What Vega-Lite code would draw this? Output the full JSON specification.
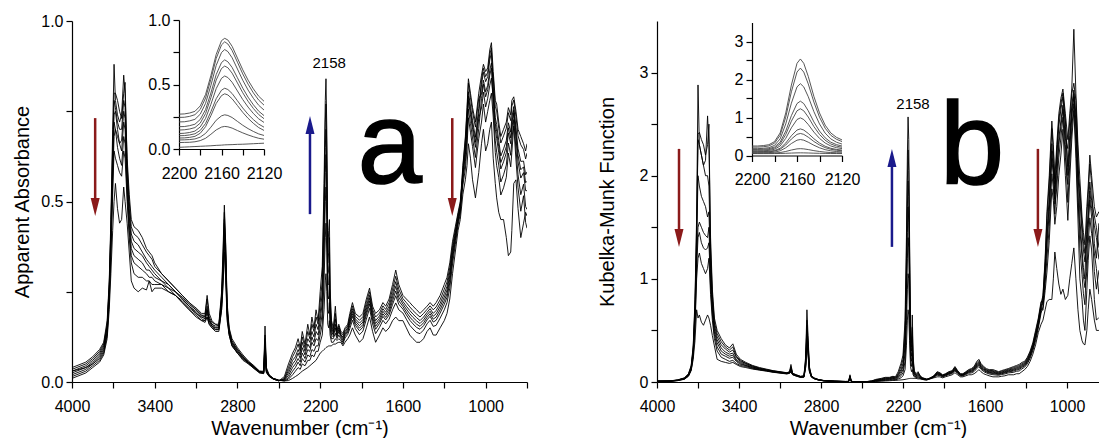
{
"$schema":"https://vega.github.io/schema/vega-lite/v6.json",
"background":"white",
"padding":{"left":12,"top":12,"right":0,"bottom":0},
"spacing":69,
"config":{
 "view":{"stroke":null},
 "font":"Liberation Sans",
 "axis":{"domainColor":"#000","tickColor":"#000","labelColor":"#000","titleColor":"#000","grid":false,"labelFont":"Liberation Sans","titleFont":"Liberation Sans","labelFontSize":16,"titleFontSize":20,"titleFontWeight":"normal","tickSize":6,"domainWidth":1.2,"tickWidth":1.2,"labelOverlap":false,"labelFlush":false,"labelBound":false}
},
"datasets":{
"amain":[
{"w":4000,"c1":0.040,"c2":0.035,"c3":0.030,"c4":0.030,"c5":0.025,"c6":0.020,"c7":0.015,"c8":0.010},
{"w":3900,"c1":0.055,"c2":0.050,"c3":0.045,"c4":0.040,"c5":0.040,"c6":0.035,"c7":0.030,"c8":0.025},
{"w":3850,"c1":0.070,"c2":0.065,"c3":0.060,"c4":0.055,"c5":0.050,"c6":0.050,"c7":0.045,"c8":0.040},
{"w":3800,"c1":0.090,"c2":0.085,"c3":0.080,"c4":0.075,"c5":0.070,"c6":0.065,"c7":0.060,"c8":0.055},
{"w":3770,"c1":0.110,"c2":0.105,"c3":0.100,"c4":0.095,"c5":0.090,"c6":0.085,"c7":0.080,"c8":0.075},
{"w":3745,"c1":0.170,"c2":0.160,"c3":0.155,"c4":0.150,"c5":0.140,"c6":0.135,"c7":0.130,"c8":0.120},
{"w":3730,"c1":0.280,"c2":0.270,"c3":0.260,"c4":0.250,"c5":0.240,"c6":0.230,"c7":0.220,"c8":0.200},
{"w":3718,"c1":0.450,"c2":0.430,"c3":0.420,"c4":0.400,"c5":0.380,"c6":0.370,"c7":0.350,"c8":0.300},
{"w":3705,"c1":0.700,"c2":0.660,"c3":0.640,"c4":0.600,"c5":0.580,"c6":0.550,"c7":0.520,"c8":0.420},
{"w":3695,"c1":0.880,"c2":0.800,"c3":0.780,"c4":0.740,"c5":0.720,"c6":0.680,"c7":0.640,"c8":0.500},
{"w":3685,"c1":0.780,"c2":0.800,"c3":0.760,"c4":0.750,"c5":0.700,"c6":0.700,"c7":0.620,"c8":0.550},
{"w":3670,"c1":0.740,"c2":0.780,"c3":0.720,"c4":0.700,"c5":0.680,"c6":0.650,"c7":0.600,"c8":0.480},
{"w":3655,"c1":0.720,"c2":0.750,"c3":0.700,"c4":0.660,"c5":0.660,"c6":0.620,"c7":0.580,"c8":0.440},
{"w":3640,"c1":0.740,"c2":0.730,"c3":0.700,"c4":0.670,"c5":0.640,"c6":0.600,"c7":0.570,"c8":0.450},
{"w":3625,"c1":0.850,"c2":0.800,"c3":0.780,"c4":0.750,"c5":0.720,"c6":0.680,"c7":0.640,"c8":0.540},
{"w":3615,"c1":0.800,"c2":0.830,"c3":0.760,"c4":0.730,"c5":0.700,"c6":0.660,"c7":0.620,"c8":0.500},
{"w":3600,"c1":0.620,"c2":0.600,"c3":0.580,"c4":0.560,"c5":0.540,"c6":0.520,"c7":0.500,"c8":0.440},
{"w":3585,"c1":0.520,"c2":0.500,"c3":0.480,"c4":0.460,"c5":0.440,"c6":0.420,"c7":0.400,"c8":0.360},
{"w":3570,"c1":0.450,"c2":0.430,"c3":0.410,"c4":0.390,"c5":0.370,"c6":0.350,"c7":0.330,"c8":0.280},
{"w":3550,"c1":0.430,"c2":0.410,"c3":0.390,"c4":0.370,"c5":0.350,"c6":0.330,"c7":0.300,"c8":0.260},
{"w":3520,"c1":0.420,"c2":0.400,"c3":0.380,"c4":0.360,"c5":0.340,"c6":0.320,"c7":0.290,"c8":0.250},
{"w":3490,"c1":0.400,"c2":0.380,"c3":0.360,"c4":0.350,"c5":0.330,"c6":0.310,"c7":0.290,"c8":0.260},
{"w":3460,"c1":0.370,"c2":0.360,"c3":0.340,"c4":0.330,"c5":0.310,"c6":0.300,"c7":0.280,"c8":0.255},
{"w":3440,"c1":0.360,"c2":0.350,"c3":0.330,"c4":0.320,"c5":0.310,"c6":0.290,"c7":0.280,"c8":0.280},
{"w":3420,"c1":0.350,"c2":0.340,"c3":0.320,"c4":0.310,"c5":0.300,"c6":0.290,"c7":0.270,"c8":0.250},
{"w":3400,"c1":0.330,"c2":0.320,"c3":0.310,"c4":0.300,"c5":0.290,"c6":0.280,"c7":0.270,"c8":0.260},
{"w":3350,"c1":0.300,"c2":0.300,"c3":0.290,"c4":0.280,"c5":0.280,"c6":0.270,"c7":0.270,"c8":0.260},
{"w":3300,"c1":0.280,"c2":0.280,"c3":0.270,"c4":0.270,"c5":0.260,"c6":0.260,"c7":0.250,"c8":0.250},
{"w":3250,"c1":0.260,"c2":0.260,"c3":0.250,"c4":0.250,"c5":0.250,"c6":0.240,"c7":0.240,"c8":0.240},
{"w":3200,"c1":0.240,"c2":0.240,"c3":0.235,"c4":0.230,"c5":0.230,"c6":0.225,"c7":0.220,"c8":0.220},
{"w":3150,"c1":0.220,"c2":0.220,"c3":0.215,"c4":0.210,"c5":0.210,"c6":0.205,"c7":0.200,"c8":0.200},
{"w":3100,"c1":0.205,"c2":0.200,"c3":0.200,"c4":0.195,"c5":0.190,"c6":0.190,"c7":0.185,"c8":0.180},
{"w":3060,"c1":0.190,"c2":0.185,"c3":0.185,"c4":0.180,"c5":0.180,"c6":0.175,"c7":0.170,"c8":0.170},
{"w":3035,"c1":0.190,"c2":0.185,"c3":0.180,"c4":0.180,"c5":0.175,"c6":0.170,"c7":0.170,"c8":0.165},
{"w":3020,"c1":0.240,"c2":0.230,"c3":0.200,"c4":0.210,"c5":0.190,"c6":0.200,"c7":0.180,"c8":0.180},
{"w":3005,"c1":0.190,"c2":0.180,"c3":0.175,"c4":0.170,"c5":0.170,"c6":0.165,"c7":0.160,"c8":0.160},
{"w":2985,"c1":0.170,"c2":0.165,"c3":0.160,"c4":0.160,"c5":0.155,"c6":0.155,"c7":0.150,"c8":0.150},
{"w":2960,"c1":0.160,"c2":0.160,"c3":0.155,"c4":0.150,"c5":0.150,"c6":0.145,"c7":0.145,"c8":0.140},
{"w":2935,"c1":0.160,"c2":0.155,"c3":0.155,"c4":0.150,"c5":0.150,"c6":0.145,"c7":0.145,"c8":0.140},
{"w":2915,"c1":0.250,"c2":0.240,"c3":0.230,"c4":0.220,"c5":0.220,"c6":0.210,"c7":0.200,"c8":0.200},
{"w":2905,"c1":0.360,"c2":0.340,"c3":0.320,"c4":0.310,"c5":0.300,"c6":0.290,"c7":0.280,"c8":0.260},
{"w":2895,"c1":0.490,"c2":0.470,"c3":0.450,"c4":0.440,"c5":0.420,"c6":0.410,"c7":0.390,"c8":0.360},
{"w":2885,"c1":0.380,"c2":0.370,"c3":0.350,"c4":0.340,"c5":0.330,"c6":0.320,"c7":0.300,"c8":0.280},
{"w":2875,"c1":0.220,"c2":0.210,"c3":0.200,"c4":0.200,"c5":0.190,"c6":0.190,"c7":0.180,"c8":0.170},
{"w":2860,"c1":0.150,"c2":0.145,"c3":0.140,"c4":0.140,"c5":0.135,"c6":0.135,"c7":0.130,"c8":0.130},
{"w":2840,"c1":0.120,"c2":0.115,"c3":0.110,"c4":0.110,"c5":0.105,"c6":0.105,"c7":0.100,"c8":0.100},
{"w":2800,"c1":0.095,"c2":0.090,"c3":0.090,"c4":0.085,"c5":0.085,"c6":0.080,"c7":0.080,"c8":0.080},
{"w":2760,"c1":0.075,"c2":0.070,"c3":0.070,"c4":0.070,"c5":0.065,"c6":0.065,"c7":0.065,"c8":0.060},
{"w":2720,"c1":0.058,"c2":0.056,"c3":0.055,"c4":0.054,"c5":0.053,"c6":0.052,"c7":0.050,"c8":0.050},
{"w":2680,"c1":0.045,"c2":0.043,"c3":0.042,"c4":0.041,"c5":0.040,"c6":0.040,"c7":0.038,"c8":0.037},
{"w":2640,"c1":0.030,"c2":0.030,"c3":0.029,"c4":0.028,"c5":0.028,"c6":0.027,"c7":0.026,"c8":0.025},
{"w":2610,"c1":0.030,"c2":0.028,"c3":0.027,"c4":0.026,"c5":0.025,"c6":0.025,"c7":0.024,"c8":0.023},
{"w":2600,"c1":0.155,"c2":0.130,"c3":0.120,"c4":0.110,"c5":0.100,"c6":0.090,"c7":0.080,"c8":0.070},
{"w":2590,"c1":0.040,"c2":0.035,"c3":0.032,"c4":0.030,"c5":0.030,"c6":0.028,"c7":0.027,"c8":0.026},
{"w":2570,"c1":0.020,"c2":0.019,"c3":0.018,"c4":0.018,"c5":0.017,"c6":0.016,"c7":0.016,"c8":0.015},
{"w":2540,"c1":0.010,"c2":0.010,"c3":0.010,"c4":0.009,"c5":0.009,"c6":0.008,"c7":0.008,"c8":0.008},
{"w":2500,"c1":0.005,"c2":0.005,"c3":0.004,"c4":0.004,"c5":0.004,"c6":0.004,"c7":0.003,"c8":0.003},
{"w":2460,"c1":0.003,"c2":0.003,"c3":0.004,"c4":0.005,"c5":0.006,"c6":0.008,"c7":0.010,"c8":0.015},
{"w":2430,"c1":0.004,"c2":0.008,"c3":0.012,"c4":0.018,"c5":0.025,"c6":0.032,"c7":0.040,"c8":0.050},
{"w":2400,"c1":0.010,"c2":0.020,"c3":0.030,"c4":0.040,"c5":0.050,"c6":0.060,"c7":0.070,"c8":0.080},
{"w":2380,"c1":0.015,"c2":0.030,"c3":0.040,"c4":0.050,"c5":0.060,"c6":0.070,"c7":0.085,"c8":0.095},
{"w":2360,"c1":0.020,"c2":0.040,"c3":0.055,"c4":0.065,"c5":0.080,"c6":0.090,"c7":0.105,"c8":0.120},
{"w":2345,"c1":0.025,"c2":0.035,"c3":0.045,"c4":0.055,"c5":0.065,"c6":0.075,"c7":0.085,"c8":0.095},
{"w":2330,"c1":0.030,"c2":0.050,"c3":0.065,"c4":0.080,"c5":0.095,"c6":0.110,"c7":0.125,"c8":0.140},
{"w":2310,"c1":0.035,"c2":0.045,"c3":0.055,"c4":0.065,"c5":0.075,"c6":0.085,"c7":0.095,"c8":0.105},
{"w":2290,"c1":0.040,"c2":0.060,"c3":0.075,"c4":0.090,"c5":0.105,"c6":0.120,"c7":0.140,"c8":0.160},
{"w":2275,"c1":0.045,"c2":0.060,"c3":0.070,"c4":0.085,"c5":0.095,"c6":0.110,"c7":0.120,"c8":0.130},
{"w":2260,"c1":0.050,"c2":0.075,"c3":0.090,"c4":0.110,"c5":0.125,"c6":0.140,"c7":0.160,"c8":0.180},
{"w":2245,"c1":0.055,"c2":0.070,"c3":0.085,"c4":0.100,"c5":0.110,"c6":0.125,"c7":0.140,"c8":0.150},
{"w":2230,"c1":0.060,"c2":0.085,"c3":0.100,"c4":0.120,"c5":0.140,"c6":0.160,"c7":0.180,"c8":0.200},
{"w":2215,"c1":0.070,"c2":0.085,"c3":0.100,"c4":0.115,"c5":0.130,"c6":0.145,"c7":0.160,"c8":0.170},
{"w":2200,"c1":0.080,"c2":0.110,"c3":0.130,"c4":0.150,"c5":0.170,"c6":0.190,"c7":0.220,"c8":0.250},
{"w":2185,"c1":0.085,"c2":0.130,"c3":0.160,"c4":0.190,"c5":0.220,"c6":0.250,"c7":0.280,"c8":0.320},
{"w":2172,"c1":0.090,"c2":0.200,"c3":0.280,"c4":0.340,"c5":0.400,"c6":0.450,"c7":0.500,"c8":0.550},
{"w":2163,"c1":0.093,"c2":0.280,"c3":0.400,"c4":0.500,"c5":0.580,"c6":0.650,"c7":0.720,"c8":0.780},
{"w":2158,"c1":0.095,"c2":0.300,"c3":0.440,"c4":0.540,"c5":0.630,"c6":0.700,"c7":0.770,"c8":0.840},
{"w":2152,"c1":0.097,"c2":0.250,"c3":0.360,"c4":0.450,"c5":0.520,"c6":0.580,"c7":0.640,"c8":0.700},
{"w":2145,"c1":0.098,"c2":0.160,"c3":0.200,"c4":0.240,"c5":0.270,"c6":0.300,"c7":0.330,"c8":0.360},
{"w":2138,"c1":0.100,"c2":0.150,"c3":0.190,"c4":0.230,"c5":0.270,"c6":0.310,"c7":0.360,"c8":0.420},
{"w":2133,"c1":0.100,"c2":0.170,"c3":0.220,"c4":0.270,"c5":0.320,"c6":0.360,"c7":0.400,"c8":0.450},
{"w":2128,"c1":0.100,"c2":0.130,"c3":0.150,"c4":0.170,"c5":0.190,"c6":0.210,"c7":0.230,"c8":0.260},
{"w":2118,"c1":0.100,"c2":0.110,"c3":0.120,"c4":0.130,"c5":0.140,"c6":0.150,"c7":0.160,"c8":0.170},
{"w":2105,"c1":0.105,"c2":0.110,"c3":0.120,"c4":0.125,"c5":0.130,"c6":0.135,"c7":0.140,"c8":0.150},
{"w":2090,"c1":0.105,"c2":0.120,"c3":0.135,"c4":0.150,"c5":0.160,"c6":0.175,"c7":0.190,"c8":0.210},
{"w":2078,"c1":0.108,"c2":0.115,"c3":0.120,"c4":0.125,"c5":0.130,"c6":0.135,"c7":0.140,"c8":0.145},
{"w":2065,"c1":0.110,"c2":0.120,"c3":0.130,"c4":0.140,"c5":0.145,"c6":0.150,"c7":0.155,"c8":0.160},
{"w":2050,"c1":0.110,"c2":0.115,"c3":0.120,"c4":0.125,"c5":0.130,"c6":0.130,"c7":0.135,"c8":0.140},
{"w":2035,"c1":0.100,"c2":0.105,"c3":0.110,"c4":0.115,"c5":0.120,"c6":0.125,"c7":0.130,"c8":0.135},
{"w":2020,"c1":0.110,"c2":0.122,"c3":0.128,"c4":0.132,"c5":0.136,"c6":0.140,"c7":0.145,"c8":0.150},
{"w":2000,"c1":0.120,"c2":0.132,"c3":0.138,"c4":0.142,"c5":0.146,"c6":0.150,"c7":0.155,"c8":0.160},
{"w":1985,"c1":0.130,"c2":0.148,"c3":0.157,"c4":0.163,"c5":0.169,"c6":0.175,"c7":0.182,"c8":0.190},
{"w":1966,"c1":0.150,"c2":0.171,"c3":0.182,"c4":0.189,"c5":0.196,"c6":0.203,"c7":0.211,"c8":0.220},
{"w":1945,"c1":0.130,"c2":0.148,"c3":0.157,"c4":0.163,"c5":0.169,"c6":0.175,"c7":0.182,"c8":0.190},
{"w":1915,"c1":0.110,"c2":0.131,"c3":0.142,"c4":0.149,"c5":0.156,"c6":0.163,"c7":0.171,"c8":0.180},
{"w":1890,"c1":0.120,"c2":0.141,"c3":0.152,"c4":0.159,"c5":0.166,"c6":0.173,"c7":0.181,"c8":0.190},
{"w":1865,"c1":0.150,"c2":0.174,"c3":0.186,"c4":0.194,"c5":0.202,"c6":0.210,"c7":0.220,"c8":0.230},
{"w":1842,"c1":0.180,"c2":0.204,"c3":0.216,"c4":0.224,"c5":0.232,"c6":0.240,"c7":0.250,"c8":0.260},
{"w":1820,"c1":0.140,"c2":0.161,"c3":0.172,"c4":0.179,"c5":0.186,"c6":0.193,"c7":0.201,"c8":0.210},
{"w":1798,"c1":0.110,"c2":0.134,"c3":0.146,"c4":0.154,"c5":0.162,"c6":0.170,"c7":0.180,"c8":0.190},
{"w":1770,"c1":0.130,"c2":0.151,"c3":0.162,"c4":0.169,"c5":0.176,"c6":0.183,"c7":0.191,"c8":0.200},
{"w":1745,"c1":0.150,"c2":0.171,"c3":0.182,"c4":0.189,"c5":0.196,"c6":0.203,"c7":0.211,"c8":0.220},
{"w":1725,"c1":0.140,"c2":0.161,"c3":0.172,"c4":0.179,"c5":0.186,"c6":0.193,"c7":0.201,"c8":0.210},
{"w":1700,"c1":0.150,"c2":0.174,"c3":0.186,"c4":0.194,"c5":0.202,"c6":0.210,"c7":0.220,"c8":0.230},
{"w":1675,"c1":0.170,"c2":0.200,"c3":0.215,"c4":0.225,"c5":0.235,"c6":0.245,"c7":0.257,"c8":0.270},
{"w":1652,"c1":0.180,"c2":0.219,"c3":0.239,"c4":0.252,"c5":0.265,"c6":0.278,"c7":0.293,"c8":0.310},
{"w":1630,"c1":0.170,"c2":0.200,"c3":0.215,"c4":0.225,"c5":0.235,"c6":0.245,"c7":0.257,"c8":0.270},
{"w":1600,"c1":0.170,"c2":0.191,"c3":0.202,"c4":0.209,"c5":0.216,"c6":0.223,"c7":0.231,"c8":0.240},
{"w":1575,"c1":0.150,"c2":0.174,"c3":0.186,"c4":0.194,"c5":0.202,"c6":0.210,"c7":0.220,"c8":0.230},
{"w":1550,"c1":0.130,"c2":0.157,"c3":0.171,"c4":0.180,"c5":0.189,"c6":0.198,"c7":0.208,"c8":0.220},
{"w":1527,"c1":0.120,"c2":0.147,"c3":0.161,"c4":0.170,"c5":0.179,"c6":0.188,"c7":0.198,"c8":0.210},
{"w":1500,"c1":0.110,"c2":0.137,"c3":0.151,"c4":0.160,"c5":0.169,"c6":0.178,"c7":0.188,"c8":0.200},
{"w":1476,"c1":0.110,"c2":0.134,"c3":0.146,"c4":0.154,"c5":0.162,"c6":0.170,"c7":0.180,"c8":0.190},
{"w":1450,"c1":0.120,"c2":0.144,"c3":0.156,"c4":0.164,"c5":0.172,"c6":0.180,"c7":0.190,"c8":0.200},
{"w":1425,"c1":0.140,"c2":0.161,"c3":0.172,"c4":0.179,"c5":0.186,"c6":0.193,"c7":0.201,"c8":0.210},
{"w":1403,"c1":0.150,"c2":0.171,"c3":0.182,"c4":0.189,"c5":0.196,"c6":0.203,"c7":0.211,"c8":0.220},
{"w":1380,"c1":0.130,"c2":0.154,"c3":0.166,"c4":0.174,"c5":0.182,"c6":0.190,"c7":0.200,"c8":0.210},
{"w":1359,"c1":0.130,"c2":0.157,"c3":0.171,"c4":0.180,"c5":0.189,"c6":0.198,"c7":0.208,"c8":0.220},
{"w":1330,"c1":0.150,"c2":0.177,"c3":0.191,"c4":0.200,"c5":0.209,"c6":0.218,"c7":0.228,"c8":0.240},
{"w":1300,"c1":0.170,"c2":0.200,"c3":0.215,"c4":0.225,"c5":0.235,"c6":0.245,"c7":0.257,"c8":0.270},
{"w":1280,"c1":0.190,"c2":0.220,"c3":0.235,"c4":0.245,"c5":0.255,"c6":0.265,"c7":0.277,"c8":0.290},
{"w":1260,"c1":0.230,"c2":0.260,"c3":0.275,"c4":0.285,"c5":0.295,"c6":0.305,"c7":0.317,"c8":0.330},
{"w":1240,"c1":0.300,"c2":0.327,"c3":0.341,"c4":0.350,"c5":0.359,"c6":0.368,"c7":0.378,"c8":0.390},
{"w":1220,"c1":0.360,"c2":0.381,"c3":0.392,"c4":0.399,"c5":0.406,"c6":0.413,"c7":0.421,"c8":0.430},
{"w":1200,"c1":0.420,"c2":0.435,"c3":0.443,"c4":0.448,"c5":0.453,"c6":0.458,"c7":0.464,"c8":0.470},
{"w":1184,"c1":0.450,"c2":0.465,"c3":0.473,"c4":0.478,"c5":0.483,"c6":0.488,"c7":0.494,"c8":0.500},
{"w":1165,"c1":0.520,"c2":0.558,"c3":0.582,"c4":0.546,"c5":0.594,"c6":0.570,"c7":0.600,"c8":0.576},
{"w":1147,"c1":0.560,"c2":0.610,"c3":0.650,"c4":0.590,"c5":0.670,"c6":0.630,"c7":0.680,"c8":0.640},
{"w":1135,"c1":0.600,"c2":0.676,"c3":0.724,"c4":0.652,"c5":0.748,"c6":0.700,"c7":0.760,"c8":0.712},
{"w":1125,"c1":0.660,"c2":0.756,"c3":0.804,"c4":0.732,"c5":0.828,"c6":0.780,"c7":0.840,"c8":0.792},
{"w":1110,"c1":0.620,"c2":0.716,"c3":0.764,"c4":0.692,"c5":0.788,"c6":0.740,"c7":0.800,"c8":0.752},
{"w":1095,"c1":0.560,"c2":0.676,"c3":0.724,"c4":0.652,"c5":0.748,"c6":0.700,"c7":0.760,"c8":0.712},
{"w":1074,"c1":0.510,"c2":0.622,"c3":0.678,"c4":0.594,"c5":0.706,"c6":0.650,"c7":0.720,"c8":0.664},
{"w":1050,"c1":0.580,"c2":0.702,"c3":0.758,"c4":0.674,"c5":0.786,"c6":0.730,"c7":0.800,"c8":0.744},
{"w":1030,"c1":0.660,"c2":0.785,"c3":0.837,"c4":0.720,"c5":0.798,"c6":0.759,"c7":0.850,"c8":0.824},
{"w":1016,"c1":0.700,"c2":0.825,"c3":0.869,"c4":0.770,"c5":0.836,"c6":0.803,"c7":0.880,"c8":0.858},
{"w":1000,"c1":0.640,"c2":0.790,"c3":0.846,"c4":0.720,"c5":0.804,"c6":0.762,"c7":0.860,"c8":0.832},
{"w":985,"c1":0.660,"c2":0.810,"c3":0.858,"c4":0.750,"c5":0.822,"c6":0.786,"c7":0.870,"c8":0.846},
{"w":970,"c1":0.700,"c2":0.850,"c3":0.906,"c4":0.780,"c5":0.864,"c6":0.822,"c7":0.920,"c8":0.892},
{"w":958,"c1":0.720,"c2":0.870,"c3":0.926,"c4":0.800,"c5":0.884,"c6":0.842,"c7":0.940,"c8":0.912},
{"w":945,"c1":0.620,"c2":0.762,"c3":0.818,"c4":0.734,"c5":0.846,"c6":0.790,"c7":0.860,"c8":0.804},
{"w":930,"c1":0.550,"c2":0.668,"c3":0.732,"c4":0.636,"c5":0.764,"c6":0.700,"c7":0.780,"c8":0.716},
{"w":920,"c1":0.510,"c2":0.637,"c3":0.713,"c4":0.599,"c5":0.751,"c6":0.675,"c7":0.770,"c8":0.694},
{"w":905,"c1":0.470,"c2":0.601,"c3":0.669,"c4":0.567,"c5":0.703,"c6":0.635,"c7":0.720,"c8":0.652},
{"w":890,"c1":0.450,"c2":0.554,"c3":0.626,"c4":0.518,"c5":0.662,"c6":0.590,"c7":0.680,"c8":0.608},
{"w":870,"c1":0.450,"c2":0.574,"c3":0.646,"c4":0.538,"c5":0.682,"c6":0.610,"c7":0.700,"c8":0.628},
{"w":850,"c1":0.400,"c2":0.601,"c3":0.669,"c4":0.567,"c5":0.703,"c6":0.635,"c7":0.720,"c8":0.652},
{"w":835,"c1":0.350,"c2":0.662,"c3":0.718,"c4":0.634,"c5":0.746,"c6":0.690,"c7":0.760,"c8":0.704},
{"w":818,"c1":0.360,"c2":0.628,"c3":0.692,"c4":0.596,"c5":0.724,"c6":0.660,"c7":0.740,"c8":0.676},
{"w":810,"c1":0.420,"c2":0.668,"c3":0.732,"c4":0.636,"c5":0.764,"c6":0.700,"c7":0.780,"c8":0.716},
{"w":796,"c1":0.550,"c2":0.727,"c3":0.763,"c4":0.709,"c5":0.781,"c6":0.745,"c7":0.790,"c8":0.754},
{"w":780,"c1":0.560,"c2":0.645,"c3":0.705,"c4":0.615,"c5":0.735,"c6":0.675,"c7":0.750,"c8":0.690},
{"w":765,"c1":0.480,"c2":0.574,"c3":0.646,"c4":0.538,"c5":0.682,"c6":0.610,"c7":0.700,"c8":0.628},
{"w":745,"c1":0.400,"c2":0.519,"c3":0.611,"c4":0.473,"c5":0.657,"c6":0.565,"c7":0.680,"c8":0.588},
{"w":725,"c1":0.440,"c2":0.548,"c3":0.612,"c4":0.516,"c5":0.644,"c6":0.580,"c7":0.660,"c8":0.596},
{"w":710,"c1":0.470,"c2":0.486,"c3":0.574,"c4":0.442,"c5":0.618,"c6":0.530,"c7":0.640,"c8":0.552},
{"w":700,"c1":0.460,"c2":0.478,"c3":0.582,"c4":0.426,"c5":0.634,"c6":0.530,"c7":0.660,"c8":0.556}
],
"bmain":[
{"w":4000,"c1":0.010,"c2":0.010,"c3":0.008,"c4":0.008,"c5":0.006,"c6":0.006,"c7":0.005,"c8":0.005},
{"w":3900,"c1":0.012,"c2":0.011,"c3":0.010,"c4":0.010,"c5":0.009,"c6":0.008,"c7":0.008,"c8":0.007},
{"w":3850,"c1":0.020,"c2":0.019,"c3":0.018,"c4":0.017,"c5":0.016,"c6":0.015,"c7":0.014,"c8":0.013},
{"w":3800,"c1":0.040,"c2":0.038,"c3":0.036,"c4":0.034,"c5":0.032,"c6":0.030,"c7":0.028,"c8":0.026},
{"w":3770,"c1":0.080,"c2":0.075,"c3":0.070,"c4":0.068,"c5":0.065,"c6":0.060,"c7":0.058,"c8":0.055},
{"w":3750,"c1":0.160,"c2":0.150,"c3":0.140,"c4":0.135,"c5":0.130,"c6":0.120,"c7":0.115,"c8":0.110},
{"w":3735,"c1":0.350,"c2":0.330,"c3":0.310,"c4":0.300,"c5":0.280,"c6":0.260,"c7":0.250,"c8":0.220},
{"w":3722,"c1":0.800,"c2":0.750,"c3":0.700,"c4":0.660,"c5":0.620,"c6":0.570,"c7":0.520,"c8":0.400},
{"w":3710,"c1":1.600,"c2":1.500,"c3":1.400,"c4":1.300,"c5":1.200,"c6":1.100,"c7":1.000,"c8":0.700},
{"w":3700,"c1":2.880,"c2":2.400,"c3":2.350,"c4":2.000,"c5":1.500,"c6":1.400,"c7":1.200,"c8":0.620},
{"w":3690,"c1":2.300,"c2":2.420,"c3":2.300,"c4":1.900,"c5":1.550,"c6":1.450,"c7":1.250,"c8":0.650},
{"w":3675,"c1":2.200,"c2":2.350,"c3":2.200,"c4":1.800,"c5":1.500,"c6":1.350,"c7":1.150,"c8":0.580},
{"w":3660,"c1":2.100,"c2":2.300,"c3":2.100,"c4":1.750,"c5":1.450,"c6":1.300,"c7":1.100,"c8":0.550},
{"w":3645,"c1":2.150,"c2":2.200,"c3":2.000,"c4":1.700,"c5":1.420,"c6":1.280,"c7":1.050,"c8":0.600},
{"w":3630,"c1":2.580,"c2":2.300,"c3":2.000,"c4":1.600,"c5":1.400,"c6":1.300,"c7":1.100,"c8":0.650},
{"w":3620,"c1":2.300,"c2":2.500,"c3":1.900,"c4":1.650,"c5":1.500,"c6":1.350,"c7":1.200,"c8":0.620},
{"w":3608,"c1":1.400,"c2":1.300,"c3":1.200,"c4":1.100,"c5":1.000,"c6":0.920,"c7":0.850,"c8":0.550},
{"w":3595,"c1":0.900,"c2":0.850,"c3":0.800,"c4":0.750,"c5":0.700,"c6":0.650,"c7":0.600,"c8":0.450},
{"w":3580,"c1":0.620,"c2":0.580,"c3":0.550,"c4":0.520,"c5":0.490,"c6":0.460,"c7":0.420,"c8":0.350},
{"w":3560,"c1":0.500,"c2":0.470,"c3":0.440,"c4":0.410,"c5":0.380,"c6":0.340,"c7":0.300,"c8":0.220},
{"w":3530,"c1":0.420,"c2":0.390,"c3":0.360,"c4":0.330,"c5":0.300,"c6":0.270,"c7":0.240,"c8":0.200},
{"w":3500,"c1":0.360,"c2":0.340,"c3":0.320,"c4":0.290,"c5":0.270,"c6":0.250,"c7":0.220,"c8":0.190},
{"w":3470,"c1":0.330,"c2":0.310,"c3":0.290,"c4":0.270,"c5":0.250,"c6":0.230,"c7":0.200,"c8":0.180},
{"w":3445,"c1":0.370,"c2":0.340,"c3":0.310,"c4":0.280,"c5":0.260,"c6":0.240,"c7":0.210,"c8":0.190},
{"w":3420,"c1":0.270,"c2":0.250,"c3":0.240,"c4":0.220,"c5":0.210,"c6":0.200,"c7":0.180,"c8":0.170},
{"w":3390,"c1":0.220,"c2":0.210,"c3":0.200,"c4":0.190,"c5":0.180,"c6":0.170,"c7":0.160,"c8":0.150},
{"w":3350,"c1":0.190,"c2":0.180,"c3":0.180,"c4":0.170,"c5":0.160,"c6":0.160,"c7":0.150,"c8":0.140},
{"w":3300,"c1":0.160,"c2":0.155,"c3":0.150,"c4":0.145,"c5":0.140,"c6":0.135,"c7":0.130,"c8":0.125},
{"w":3250,"c1":0.140,"c2":0.135,"c3":0.130,"c4":0.128,"c5":0.125,"c6":0.120,"c7":0.118,"c8":0.115},
{"w":3200,"c1":0.125,"c2":0.120,"c3":0.118,"c4":0.115,"c5":0.112,"c6":0.110,"c7":0.108,"c8":0.105},
{"w":3150,"c1":0.110,"c2":0.108,"c3":0.105,"c4":0.103,"c5":0.100,"c6":0.098,"c7":0.096,"c8":0.094},
{"w":3100,"c1":0.100,"c2":0.098,"c3":0.096,"c4":0.094,"c5":0.092,"c6":0.090,"c7":0.088,"c8":0.086},
{"w":3050,"c1":0.090,"c2":0.088,"c3":0.086,"c4":0.085,"c5":0.083,"c6":0.082,"c7":0.080,"c8":0.078},
{"w":3030,"c1":0.100,"c2":0.098,"c3":0.095,"c4":0.092,"c5":0.090,"c6":0.088,"c7":0.086,"c8":0.084},
{"w":3020,"c1":0.170,"c2":0.150,"c3":0.140,"c4":0.130,"c5":0.120,"c6":0.110,"c7":0.100,"c8":0.095},
{"w":3008,"c1":0.085,"c2":0.083,"c3":0.080,"c4":0.078,"c5":0.076,"c6":0.074,"c7":0.072,"c8":0.070},
{"w":2980,"c1":0.070,"c2":0.068,"c3":0.066,"c4":0.064,"c5":0.062,"c6":0.060,"c7":0.058,"c8":0.056},
{"w":2950,"c1":0.055,"c2":0.054,"c3":0.052,"c4":0.050,"c5":0.049,"c6":0.048,"c7":0.046,"c8":0.045},
{"w":2925,"c1":0.060,"c2":0.058,"c3":0.056,"c4":0.054,"c5":0.052,"c6":0.050,"c7":0.048,"c8":0.046},
{"w":2912,"c1":0.250,"c2":0.220,"c3":0.200,"c4":0.180,"c5":0.170,"c6":0.160,"c7":0.150,"c8":0.140},
{"w":2903,"c1":0.700,"c2":0.600,"c3":0.550,"c4":0.500,"c5":0.470,"c6":0.440,"c7":0.420,"c8":0.380},
{"w":2895,"c1":0.450,"c2":0.400,"c3":0.370,"c4":0.340,"c5":0.320,"c6":0.300,"c7":0.280,"c8":0.260},
{"w":2885,"c1":0.150,"c2":0.140,"c3":0.130,"c4":0.120,"c5":0.115,"c6":0.110,"c7":0.105,"c8":0.100},
{"w":2870,"c1":0.060,"c2":0.058,"c3":0.056,"c4":0.054,"c5":0.052,"c6":0.050,"c7":0.048,"c8":0.046},
{"w":2850,"c1":0.040,"c2":0.038,"c3":0.036,"c4":0.035,"c5":0.034,"c6":0.033,"c7":0.032,"c8":0.031},
{"w":2820,"c1":0.025,"c2":0.024,"c3":0.023,"c4":0.022,"c5":0.021,"c6":0.020,"c7":0.020,"c8":0.019},
{"w":2780,"c1":0.015,"c2":0.014,"c3":0.013,"c4":0.013,"c5":0.012,"c6":0.012,"c7":0.011,"c8":0.011},
{"w":2700,"c1":0.008,"c2":0.008,"c3":0.008,"c4":0.007,"c5":0.007,"c6":0.007,"c7":0.006,"c8":0.006},
{"w":2620,"c1":0.005,"c2":0.005,"c3":0.005,"c4":0.005,"c5":0.004,"c6":0.004,"c7":0.004,"c8":0.004},
{"w":2598,"c1":0.006,"c2":0.006,"c3":0.005,"c4":0.005,"c5":0.005,"c6":0.005,"c7":0.004,"c8":0.004},
{"w":2588,"c1":0.070,"c2":0.060,"c3":0.055,"c4":0.050,"c5":0.045,"c6":0.040,"c7":0.035,"c8":0.030},
{"w":2578,"c1":0.006,"c2":0.006,"c3":0.005,"c4":0.005,"c5":0.005,"c6":0.005,"c7":0.004,"c8":0.004},
{"w":2540,"c1":0.003,"c2":0.003,"c3":0.003,"c4":0.003,"c5":0.003,"c6":0.003,"c7":0.003,"c8":0.003},
{"w":2480,"c1":0.002,"c2":0.002,"c3":0.002,"c4":0.002,"c5":0.002,"c6":0.002,"c7":0.002,"c8":0.002},
{"w":2430,"c1":0.003,"c2":0.004,"c3":0.005,"c4":0.006,"c5":0.007,"c6":0.008,"c7":0.009,"c8":0.010},
{"w":2400,"c1":0.005,"c2":0.008,"c3":0.010,"c4":0.012,"c5":0.015,"c6":0.018,"c7":0.020,"c8":0.025},
{"w":2360,"c1":0.008,"c2":0.012,"c3":0.015,"c4":0.018,"c5":0.022,"c6":0.025,"c7":0.030,"c8":0.035},
{"w":2330,"c1":0.010,"c2":0.015,"c3":0.020,"c4":0.025,"c5":0.030,"c6":0.035,"c7":0.040,"c8":0.045},
{"w":2300,"c1":0.012,"c2":0.018,"c3":0.022,"c4":0.028,"c5":0.032,"c6":0.036,"c7":0.040,"c8":0.045},
{"w":2274,"c1":0.015,"c2":0.022,"c3":0.028,"c4":0.035,"c5":0.040,"c6":0.045,"c7":0.050,"c8":0.055},
{"w":2255,"c1":0.015,"c2":0.020,"c3":0.025,"c4":0.030,"c5":0.035,"c6":0.040,"c7":0.045,"c8":0.050},
{"w":2235,"c1":0.018,"c2":0.030,"c3":0.040,"c4":0.050,"c5":0.060,"c6":0.070,"c7":0.080,"c8":0.100},
{"w":2215,"c1":0.020,"c2":0.040,"c3":0.060,"c4":0.080,"c5":0.100,"c6":0.120,"c7":0.150,"c8":0.180},
{"w":2200,"c1":0.022,"c2":0.060,"c3":0.090,"c4":0.120,"c5":0.150,"c6":0.180,"c7":0.220,"c8":0.260},
{"w":2185,"c1":0.025,"c2":0.120,"c3":0.200,"c4":0.280,"c5":0.350,"c6":0.420,"c7":0.500,"c8":0.600},
{"w":2175,"c1":0.028,"c2":0.350,"c3":0.550,"c4":0.750,"c5":0.900,"c6":1.050,"c7":1.200,"c8":1.400},
{"w":2168,"c1":0.030,"c2":0.600,"c3":0.900,"c4":1.200,"c5":1.450,"c6":1.700,"c7":1.950,"c8":2.200},
{"w":2163,"c1":0.032,"c2":0.700,"c3":1.050,"c4":1.400,"c5":1.700,"c6":1.950,"c7":2.250,"c8":2.570},
{"w":2158,"c1":0.033,"c2":0.650,"c3":1.000,"c4":1.300,"c5":1.550,"c6":1.800,"c7":2.050,"c8":2.350},
{"w":2152,"c1":0.034,"c2":0.400,"c3":0.600,"c4":0.800,"c5":0.950,"c6":1.100,"c7":1.250,"c8":1.400},
{"w":2145,"c1":0.035,"c2":0.150,"c3":0.220,"c4":0.300,"c5":0.360,"c6":0.420,"c7":0.480,"c8":0.550},
{"w":2138,"c1":0.035,"c2":0.100,"c3":0.150,"c4":0.200,"c5":0.250,"c6":0.300,"c7":0.340,"c8":0.380},
{"w":2132,"c1":0.035,"c2":0.120,"c3":0.200,"c4":0.280,"c5":0.360,"c6":0.440,"c7":0.530,"c8":0.650},
{"w":2126,"c1":0.035,"c2":0.070,"c3":0.100,"c4":0.130,"c5":0.160,"c6":0.190,"c7":0.220,"c8":0.250},
{"w":2118,"c1":0.035,"c2":0.050,"c3":0.060,"c4":0.070,"c5":0.080,"c6":0.090,"c7":0.100,"c8":0.110},
{"w":2105,"c1":0.035,"c2":0.045,"c3":0.050,"c4":0.055,"c5":0.060,"c6":0.065,"c7":0.070,"c8":0.080},
{"w":2090,"c1":0.030,"c2":0.040,"c3":0.050,"c4":0.060,"c5":0.070,"c6":0.080,"c7":0.090,"c8":0.100},
{"w":2076,"c1":0.030,"c2":0.035,"c3":0.040,"c4":0.045,"c5":0.050,"c6":0.055,"c7":0.060,"c8":0.065},
{"w":2060,"c1":0.025,"c2":0.028,"c3":0.030,"c4":0.032,"c5":0.035,"c6":0.038,"c7":0.040,"c8":0.042},
{"w":2040,"c1":0.020,"c2":0.022,"c3":0.024,"c4":0.026,"c5":0.028,"c6":0.030,"c7":0.032,"c8":0.034},
{"w":2025,"c1":0.020,"c2":0.021,"c3":0.022,"c4":0.023,"c5":0.024,"c6":0.025,"c7":0.026,"c8":0.027},
{"w":2000,"c1":0.030,"c2":0.033,"c3":0.035,"c4":0.036,"c5":0.037,"c6":0.038,"c7":0.039,"c8":0.040},
{"w":1975,"c1":0.040,"c2":0.046,"c3":0.049,"c4":0.051,"c5":0.053,"c6":0.055,"c7":0.057,"c8":0.060},
{"w":1950,"c1":0.050,"c2":0.065,"c3":0.073,"c4":0.078,"c5":0.083,"c6":0.088,"c7":0.094,"c8":0.100},
{"w":1930,"c1":0.050,"c2":0.062,"c3":0.068,"c4":0.072,"c5":0.076,"c6":0.080,"c7":0.085,"c8":0.090},
{"w":1910,"c1":0.040,"c2":0.049,"c3":0.054,"c4":0.057,"c5":0.060,"c6":0.063,"c7":0.066,"c8":0.070},
{"w":1890,"c1":0.050,"c2":0.059,"c3":0.064,"c4":0.067,"c5":0.070,"c6":0.073,"c7":0.076,"c8":0.080},
{"w":1865,"c1":0.060,"c2":0.072,"c3":0.078,"c4":0.082,"c5":0.086,"c6":0.090,"c7":0.095,"c8":0.100},
{"w":1840,"c1":0.070,"c2":0.082,"c3":0.088,"c4":0.092,"c5":0.096,"c6":0.100,"c7":0.105,"c8":0.110},
{"w":1820,"c1":0.090,"c2":0.108,"c3":0.117,"c4":0.123,"c5":0.129,"c6":0.135,"c7":0.142,"c8":0.150},
{"w":1800,"c1":0.070,"c2":0.082,"c3":0.088,"c4":0.092,"c5":0.096,"c6":0.100,"c7":0.105,"c8":0.110},
{"w":1780,"c1":0.050,"c2":0.059,"c3":0.064,"c4":0.067,"c5":0.070,"c6":0.073,"c7":0.076,"c8":0.080},
{"w":1762,"c1":0.050,"c2":0.059,"c3":0.064,"c4":0.067,"c5":0.070,"c6":0.073,"c7":0.076,"c8":0.080},
{"w":1740,"c1":0.060,"c2":0.072,"c3":0.078,"c4":0.082,"c5":0.086,"c6":0.090,"c7":0.095,"c8":0.100},
{"w":1720,"c1":0.070,"c2":0.085,"c3":0.093,"c4":0.098,"c5":0.103,"c6":0.108,"c7":0.114,"c8":0.120},
{"w":1700,"c1":0.070,"c2":0.088,"c3":0.097,"c4":0.103,"c5":0.109,"c6":0.115,"c7":0.122,"c8":0.130},
{"w":1680,"c1":0.080,"c2":0.101,"c3":0.112,"c4":0.119,"c5":0.126,"c6":0.133,"c7":0.141,"c8":0.150},
{"w":1660,"c1":0.100,"c2":0.130,"c3":0.145,"c4":0.155,"c5":0.165,"c6":0.175,"c7":0.187,"c8":0.200},
{"w":1645,"c1":0.120,"c2":0.150,"c3":0.165,"c4":0.175,"c5":0.185,"c6":0.195,"c7":0.207,"c8":0.220},
{"w":1630,"c1":0.100,"c2":0.124,"c3":0.136,"c4":0.144,"c5":0.152,"c6":0.160,"c7":0.170,"c8":0.180},
{"w":1610,"c1":0.080,"c2":0.101,"c3":0.112,"c4":0.119,"c5":0.126,"c6":0.133,"c7":0.141,"c8":0.150},
{"w":1590,"c1":0.070,"c2":0.088,"c3":0.097,"c4":0.103,"c5":0.109,"c6":0.115,"c7":0.122,"c8":0.130},
{"w":1570,"c1":0.060,"c2":0.078,"c3":0.087,"c4":0.093,"c5":0.099,"c6":0.105,"c7":0.112,"c8":0.120},
{"w":1542,"c1":0.050,"c2":0.071,"c3":0.082,"c4":0.089,"c5":0.096,"c6":0.103,"c7":0.111,"c8":0.120},
{"w":1520,"c1":0.050,"c2":0.068,"c3":0.077,"c4":0.083,"c5":0.089,"c6":0.095,"c7":0.102,"c8":0.110},
{"w":1500,"c1":0.050,"c2":0.065,"c3":0.073,"c4":0.078,"c5":0.083,"c6":0.088,"c7":0.094,"c8":0.100},
{"w":1480,"c1":0.055,"c2":0.072,"c3":0.080,"c4":0.085,"c5":0.091,"c6":0.096,"c7":0.103,"c8":0.110},
{"w":1455,"c1":0.060,"c2":0.078,"c3":0.087,"c4":0.093,"c5":0.099,"c6":0.105,"c7":0.112,"c8":0.120},
{"w":1430,"c1":0.070,"c2":0.088,"c3":0.097,"c4":0.103,"c5":0.109,"c6":0.115,"c7":0.122,"c8":0.130},
{"w":1410,"c1":0.070,"c2":0.091,"c3":0.102,"c4":0.109,"c5":0.116,"c6":0.123,"c7":0.131,"c8":0.140},
{"w":1390,"c1":0.070,"c2":0.094,"c3":0.106,"c4":0.114,"c5":0.122,"c6":0.130,"c7":0.140,"c8":0.150},
{"w":1370,"c1":0.080,"c2":0.104,"c3":0.116,"c4":0.124,"c5":0.132,"c6":0.140,"c7":0.150,"c8":0.160},
{"w":1350,"c1":0.080,"c2":0.107,"c3":0.121,"c4":0.130,"c5":0.139,"c6":0.148,"c7":0.158,"c8":0.170},
{"w":1330,"c1":0.100,"c2":0.127,"c3":0.141,"c4":0.150,"c5":0.159,"c6":0.168,"c7":0.178,"c8":0.190},
{"w":1310,"c1":0.120,"c2":0.144,"c3":0.156,"c4":0.164,"c5":0.172,"c6":0.180,"c7":0.190,"c8":0.200},
{"w":1290,"c1":0.150,"c2":0.177,"c3":0.191,"c4":0.200,"c5":0.209,"c6":0.218,"c7":0.228,"c8":0.240},
{"w":1270,"c1":0.200,"c2":0.230,"c3":0.245,"c4":0.255,"c5":0.265,"c6":0.275,"c7":0.287,"c8":0.300},
{"w":1250,"c1":0.270,"c2":0.303,"c3":0.320,"c4":0.331,"c5":0.342,"c6":0.353,"c7":0.366,"c8":0.380},
{"w":1230,"c1":0.360,"c2":0.402,"c3":0.423,"c4":0.437,"c5":0.451,"c6":0.465,"c7":0.482,"c8":0.500},
{"w":1210,"c1":0.480,"c2":0.522,"c3":0.543,"c4":0.557,"c5":0.571,"c6":0.585,"c7":0.602,"c8":0.620},
{"w":1190,"c1":0.560,"c2":0.668,"c3":0.692,"c4":0.708,"c5":0.724,"c6":0.740,"c7":0.759,"c8":0.780},
{"w":1176,"c1":0.600,"c2":0.728,"c3":0.792,"c4":0.696,"c5":0.824,"c6":0.760,"c7":0.840,"c8":0.776},
{"w":1160,"c1":0.700,"c2":0.955,"c3":1.095,"c4":0.885,"c5":1.165,"c6":1.025,"c7":1.200,"c8":1.060},
{"w":1147,"c1":0.780,"c2":1.195,"c3":1.455,"c4":1.065,"c5":1.585,"c6":1.325,"c7":1.650,"c8":1.390},
{"w":1130,"c1":0.800,"c2":1.510,"c3":1.790,"c4":1.370,"c5":1.930,"c6":1.650,"c7":2.000,"c8":1.720},
{"w":1111,"c1":0.800,"c2":2.019,"c3":2.311,"c4":1.873,"c5":2.457,"c6":2.165,"c7":2.530,"c8":2.238},
{"w":1100,"c1":1.000,"c2":1.880,"c3":2.120,"c4":1.760,"c5":2.240,"c6":2.000,"c7":2.300,"c8":2.060},
{"w":1089,"c1":1.260,"c2":1.627,"c3":1.823,"c4":1.529,"c5":1.921,"c6":1.725,"c7":1.970,"c8":1.774},
{"w":1075,"c1":1.100,"c2":2.000,"c3":2.240,"c4":1.700,"c5":2.060,"c6":1.880,"c7":2.300,"c8":2.180},
{"w":1060,"c1":0.950,"c2":2.300,"c3":2.540,"c4":2.000,"c5":2.360,"c6":2.180,"c7":2.600,"c8":2.480},
{"w":1045,"c1":0.850,"c2":2.475,"c3":2.695,"c4":2.200,"c5":2.530,"c6":2.365,"c7":2.750,"c8":2.640},
{"w":1030,"c1":0.900,"c2":2.645,"c3":2.801,"c4":2.450,"c5":2.684,"c6":2.567,"c7":2.840,"c8":2.762},
{"w":1012,"c1":0.800,"c2":2.300,"c3":2.540,"c4":2.000,"c5":2.360,"c6":2.180,"c7":2.600,"c8":2.480},
{"w":994,"c1":0.840,"c2":1.741,"c3":2.089,"c4":1.567,"c5":2.263,"c6":1.915,"c7":2.350,"c8":2.002},
{"w":980,"c1":1.000,"c2":2.110,"c3":2.390,"c4":1.970,"c5":2.530,"c6":2.250,"c7":2.600,"c8":2.320},
{"w":965,"c1":1.150,"c2":2.465,"c3":2.685,"c4":2.355,"c5":2.795,"c6":2.575,"c7":2.850,"c8":2.630},
{"w":950,"c1":1.300,"c2":2.699,"c3":2.831,"c4":2.633,"c5":2.897,"c6":2.765,"c7":3.420,"c8":2.798},
{"w":935,"c1":1.000,"c2":2.310,"c3":2.590,"c4":2.170,"c5":2.730,"c6":2.450,"c7":2.800,"c8":2.520},
{"w":920,"c1":0.700,"c2":1.740,"c3":2.060,"c4":1.580,"c5":2.220,"c6":1.900,"c7":2.300,"c8":1.980},
{"w":906,"c1":0.500,"c2":1.485,"c3":1.873,"c4":1.000,"c5":1.582,"c6":1.291,"c7":1.970,"c8":1.776},
{"w":890,"c1":0.400,"c2":1.200,"c3":1.520,"c4":0.800,"c5":1.280,"c6":1.040,"c7":1.600,"c8":1.440},
{"w":880,"c1":0.370,"c2":1.025,"c3":1.365,"c4":0.600,"c5":1.110,"c6":0.855,"c7":1.450,"c8":1.280},
{"w":869,"c1":0.360,"c2":0.915,"c3":1.247,"c4":0.500,"c5":0.998,"c6":0.749,"c7":1.330,"c8":1.164},
{"w":855,"c1":0.500,"c2":1.070,"c3":1.430,"c4":0.890,"c5":1.610,"c6":1.250,"c7":1.700,"c8":1.340},
{"w":845,"c1":0.700,"c2":1.340,"c3":1.660,"c4":1.180,"c5":1.820,"c6":1.500,"c7":1.900,"c8":1.580},
{"w":833,"c1":0.900,"c2":1.591,"c3":1.939,"c4":1.417,"c5":2.113,"c6":1.765,"c7":2.200,"c8":1.852},
{"w":820,"c1":0.800,"c2":1.440,"c3":1.760,"c4":1.280,"c5":1.920,"c6":1.600,"c7":2.000,"c8":1.680},
{"w":800,"c1":0.600,"c2":1.250,"c3":1.610,"c4":0.800,"c5":1.340,"c6":1.070,"c7":1.700,"c8":1.520},
{"w":785,"c1":0.500,"c2":1.100,"c3":1.500,"c4":0.600,"c5":1.200,"c6":0.900,"c7":1.600,"c8":1.400},
{"w":767,"c1":0.500,"c2":0.852,"c3":1.308,"c4":0.624,"c5":1.536,"c6":1.080,"c7":1.650,"c8":1.194},
{"w":750,"c1":0.500,"c2":0.830,"c3":1.270,"c4":0.610,"c5":1.490,"c6":1.050,"c7":1.600,"c8":1.160}
],
"ainset":[
{"w":2200,"k1":0.270,"k2":0.245,"k3":0.210,"k4":0.173,"k5":0.147,"k6":0.120,"k7":0.103,"k8":0.085,"k9":0.070,"k10":0.050,"k11":0.013},
{"w":2195,"k1":0.272,"k2":0.246,"k3":0.211,"k4":0.174,"k5":0.149,"k6":0.122,"k7":0.104,"k8":0.086,"k9":0.071,"k10":0.051,"k11":0.015},
{"w":2190,"k1":0.279,"k2":0.253,"k3":0.218,"k4":0.181,"k5":0.155,"k6":0.128,"k7":0.109,"k8":0.090,"k9":0.073,"k10":0.052,"k11":0.017},
{"w":2185,"k1":0.292,"k2":0.266,"k3":0.230,"k4":0.192,"k5":0.166,"k6":0.139,"k7":0.118,"k8":0.098,"k9":0.078,"k10":0.056,"k11":0.019},
{"w":2180,"k1":0.334,"k2":0.307,"k3":0.270,"k4":0.229,"k5":0.201,"k6":0.171,"k7":0.144,"k8":0.122,"k9":0.092,"k10":0.065,"k11":0.021},
{"w":2175,"k1":0.423,"k2":0.395,"k3":0.354,"k4":0.306,"k5":0.275,"k6":0.237,"k7":0.198,"k8":0.173,"k9":0.121,"k10":0.083,"k11":0.023},
{"w":2170,"k1":0.569,"k2":0.540,"k3":0.493,"k4":0.434,"k5":0.398,"k6":0.346,"k7":0.289,"k8":0.258,"k9":0.169,"k10":0.114,"k11":0.025},
{"w":2165,"k1":0.733,"k2":0.702,"k3":0.648,"k4":0.577,"k5":0.535,"k6":0.468,"k7":0.390,"k8":0.353,"k9":0.223,"k10":0.148,"k11":0.028},
{"w":2160,"k1":0.840,"k2":0.807,"k3":0.748,"k4":0.670,"k5":0.624,"k6":0.548,"k7":0.456,"k8":0.414,"k9":0.257,"k10":0.170,"k11":0.030},
{"w":2157,"k1":0.858,"k2":0.831,"k3":0.771,"k4":0.691,"k5":0.643,"k6":0.566,"k7":0.471,"k8":0.428,"k9":0.265,"k10":0.175,"k11":0.032},
{"w":2154,"k1":0.845,"k2":0.814,"k3":0.755,"k4":0.676,"k5":0.630,"k6":0.554,"k7":0.461,"k8":0.419,"k9":0.260,"k10":0.172,"k11":0.033},
{"w":2150,"k1":0.796,"k2":0.763,"k3":0.707,"k4":0.632,"k5":0.588,"k6":0.517,"k7":0.430,"k8":0.389,"k9":0.244,"k10":0.162,"k11":0.034},
{"w":2145,"k1":0.705,"k2":0.673,"k3":0.620,"k4":0.552,"k5":0.512,"k6":0.450,"k7":0.374,"k8":0.337,"k9":0.214,"k10":0.143,"k11":0.036},
{"w":2140,"k1":0.614,"k2":0.582,"k3":0.533,"k4":0.472,"k5":0.436,"k6":0.383,"k7":0.318,"k8":0.284,"k9":0.184,"k10":0.125,"k11":0.037},
{"w":2135,"k1":0.534,"k2":0.503,"k3":0.457,"k4":0.402,"k5":0.370,"k6":0.325,"k7":0.269,"k8":0.238,"k9":0.158,"k10":0.109,"k11":0.039},
{"w":2130,"k1":0.466,"k2":0.435,"k3":0.393,"k4":0.343,"k5":0.314,"k6":0.275,"k7":0.228,"k8":0.199,"k9":0.136,"k10":0.095,"k11":0.041},
{"w":2125,"k1":0.409,"k2":0.379,"k3":0.339,"k4":0.293,"k5":0.267,"k6":0.234,"k7":0.193,"k8":0.166,"k9":0.117,"k10":0.083,"k11":0.043},
{"w":2120,"k1":0.370,"k2":0.340,"k3":0.302,"k4":0.259,"k5":0.235,"k6":0.206,"k7":0.169,"k8":0.144,"k9":0.105,"k10":0.076,"k11":0.045}
],
"binset":[
{"w":2200,"k1":0.250,"k2":0.220,"k3":0.180,"k4":0.160,"k5":0.140,"k6":0.120,"k7":0.100,"k8":0.090,"k9":0.070,"k10":0.060,"k11":0.050},
{"w":2195,"k1":0.250,"k2":0.220,"k3":0.180,"k4":0.160,"k5":0.140,"k6":0.120,"k7":0.100,"k8":0.090,"k9":0.070,"k10":0.060,"k11":0.050},
{"w":2190,"k1":0.261,"k2":0.230,"k3":0.189,"k4":0.166,"k5":0.145,"k6":0.124,"k7":0.103,"k8":0.092,"k9":0.072,"k10":0.061,"k11":0.050},
{"w":2185,"k1":0.284,"k2":0.251,"k3":0.206,"k4":0.179,"k5":0.156,"k6":0.133,"k7":0.109,"k8":0.097,"k9":0.075,"k10":0.062,"k11":0.050},
{"w":2180,"k1":0.365,"k2":0.324,"k3":0.266,"k4":0.224,"k5":0.195,"k6":0.164,"k7":0.130,"k8":0.115,"k9":0.088,"k10":0.066,"k11":0.051},
{"w":2175,"k1":0.594,"k2":0.532,"k3":0.437,"k4":0.351,"k5":0.304,"k6":0.251,"k7":0.190,"k8":0.164,"k9":0.123,"k10":0.078,"k11":0.053},
{"w":2170,"k1":1.120,"k2":1.010,"k3":0.830,"k4":0.643,"k5":0.554,"k6":0.451,"k7":0.328,"k8":0.276,"k9":0.203,"k10":0.106,"k11":0.058},
{"w":2165,"k1":1.853,"k2":1.676,"k3":1.377,"k4":1.049,"k5":0.903,"k6":0.729,"k7":0.520,"k8":0.433,"k9":0.315,"k10":0.144,"k11":0.064},
{"w":2160,"k1":2.426,"k2":2.196,"k3":1.805,"k4":1.367,"k5":1.176,"k6":0.947,"k7":0.670,"k8":0.556,"k9":0.403,"k10":0.174,"k11":0.069},
{"w":2157,"k1":2.540,"k2":2.300,"k3":1.890,"k4":1.430,"k5":1.230,"k6":0.990,"k7":0.700,"k8":0.580,"k9":0.420,"k10":0.180,"k11":0.070},
{"w":2154,"k1":2.426,"k2":2.196,"k3":1.805,"k4":1.367,"k5":1.176,"k6":0.947,"k7":0.670,"k8":0.556,"k9":0.403,"k10":0.174,"k11":0.069},
{"w":2150,"k1":2.082,"k2":1.884,"k3":1.548,"k4":1.176,"k5":1.012,"k6":0.816,"k7":0.580,"k8":0.482,"k9":0.350,"k10":0.156,"k11":0.066},
{"w":2145,"k1":1.555,"k2":1.406,"k3":1.155,"k4":0.884,"k5":0.761,"k6":0.616,"k7":0.442,"k8":0.369,"k9":0.270,"k10":0.128,"k11":0.061},
{"w":2140,"k1":1.120,"k2":1.010,"k3":0.830,"k4":0.643,"k5":0.554,"k6":0.451,"k7":0.328,"k8":0.276,"k9":0.203,"k10":0.106,"k11":0.058},
{"w":2135,"k1":0.800,"k2":0.719,"k3":0.590,"k4":0.465,"k5":0.402,"k6":0.329,"k7":0.244,"k8":0.208,"k9":0.154,"k10":0.089,"k11":0.055},
{"w":2130,"k1":0.594,"k2":0.532,"k3":0.437,"k4":0.351,"k5":0.304,"k6":0.251,"k7":0.190,"k8":0.164,"k9":0.123,"k10":0.078,"k11":0.053},
{"w":2125,"k1":0.479,"k2":0.428,"k3":0.351,"k4":0.287,"k5":0.249,"k6":0.207,"k7":0.160,"k8":0.139,"k9":0.105,"k10":0.072,"k11":0.052},
{"w":2120,"k1":0.410,"k2":0.366,"k3":0.300,"k4":0.249,"k5":0.216,"k6":0.181,"k7":0.142,"k8":0.124,"k9":0.095,"k10":0.068,"k11":0.051}
],
"arrA":[
{"w":3832,"y0":0.731,"ye":0.48,"y1":0.46,"c":"red","d":"down"},
{"w":2274,"y0":0.465,"ye":0.717,"y1":0.737,"c":"blue","d":"up"},
{"w":1242,"y0":0.731,"ye":0.48,"y1":0.46,"c":"red","d":"down"}
],
"arrB":[
{"w":3839,"y0":2.26,"ye":1.38,"y1":1.31,"c":"red","d":"down"},
{"w":2281,"y0":1.31,"ye":2.19,"y1":2.26,"c":"blue","d":"up"},
{"w":1213,"y0":2.26,"ye":1.38,"y1":1.31,"c":"red","d":"down"}
],
"txtA":[{"w":1696,"y":0.551,"t":"a"}],
"txtB":[{"w":1696,"y":1.917,"t":"b"}],
"lblA":[{"w":2135,"y":0.884,"t":"2158"}],
"lblB":[{"w":2127,"y":2.70,"t":"2158"}]
},
"hconcat":[
{
"width":455,"height":361,
"layer":[
 {"layer":[
  {"data":{"name":"amain"},"transform":[{"fold":["c1","c2","c3","c4","c5","c6","c7","c8"],"as":["s","v"]}],
   "mark":{"type":"line","stroke":"#000","strokeWidth":0.9,"clip":true},
   "encoding":{
    "x":{"field":"w","type":"quantitative","scale":{"domain":[4000,700],"nice":false,"zero":false},
         "axis":{"values":[4000,3700,3400,3100,2800,2500,2200,1900,1600,1300,1000,700],"format":"d","labelExpr":"datum.value % 600 == 400 ? datum.label : ''","labelPadding":10,"title":"Wavenumber (cm⁻¹)","titlePadding":4}},
    "y":{"field":"v","type":"quantitative","scale":{"domain":[0,1],"nice":false,"zero":false},
         "axis":{"values":[0,0.25,0.5,0.75,1],"format":".1f","labelExpr":"(datum.value*4) % 2 == 0 ? datum.label : ''","labelPadding":3,"title":"Apparent Absorbance","titlePadding":8}},
    "detail":{"field":"s","type":"nominal"}}},
  {"data":{"name":"arrA"},"mark":{"type":"rule","strokeWidth":2.5},
   "encoding":{"x":{"field":"w","type":"quantitative"},"y":{"field":"y0","type":"quantitative"},"y2":{"field":"ye"},
    "color":{"field":"c","type":"nominal","scale":{"domain":["red","blue"],"range":["#8b1a1a","#1a1a8c"]},"legend":null}}},
  {"data":{"name":"arrA"},"mark":{"type":"point","filled":true,"opacity":1,"size":1296,"strokeWidth":0},
   "encoding":{"x":{"field":"w","type":"quantitative"},"y":{"field":"y1","type":"quantitative"},
    "color":{"field":"c","type":"nominal","legend":null},
    "shape":{"field":"d","type":"nominal","scale":{"domain":["down","up"],"range":["M-0.25,-1L0.25,-1L0,0Z","M-0.25,1L0.25,1L0,0Z"]},"legend":null}}},
  {"data":{"name":"txtA"},"mark":{"type":"text","fontSize":116,"font":"Liberation Sans","baseline":"alphabetic","align":"center","color":"#000","stroke":"#000","strokeWidth":1.5},
   "encoding":{"x":{"field":"w","type":"quantitative"},"y":{"field":"y","type":"quantitative"},"text":{"field":"t"}}},
  {"data":{"name":"lblA"},"mark":{"type":"text","fontSize":15,"font":"Liberation Sans","baseline":"middle","align":"center","color":"#000"},
   "encoding":{"x":{"field":"w","type":"quantitative"},"y":{"field":"y","type":"quantitative"},"text":{"field":"t"}}}
 ]},
 {"data":{"name":"ainset"},"transform":[{"fold":["k1","k2","k3","k4","k5","k6","k7","k8","k9","k10","k11"],"as":["s","v"]}],
  "mark":{"type":"line","stroke":"#444","strokeWidth":0.9},
  "encoding":{
   "x":{"field":"w","type":"quantitative","scale":{"domain":[2200,2120],"range":[107,192],"nice":false,"zero":false},
        "axis":{"orient":"bottom","offset":-233,"values":[2200,2180,2160,2140,2120],"format":"d","labelExpr":"(2200 - datum.value) % 40 == 0 ? datum.label : ''","labelPadding":10,"title":null}},
   "y":{"field":"v","type":"quantitative","scale":{"domain":[0,1],"range":[128,-1],"nice":false,"zero":false},
        "axis":{"orient":"left","offset":-107,"values":[0,0.25,0.5,0.75,1],"format":".1f","labelExpr":"(datum.value*4) % 2 == 0 ? datum.label : ''","labelPadding":3,"title":null}},
   "detail":{"field":"s","type":"nominal"}}}
],
"resolve":{"scale":{"x":"independent","y":"independent"},"axis":{"x":"independent","y":"independent"}}
},
{
"width":442,"height":361,
"layer":[
 {"layer":[
  {"data":{"name":"bmain"},"transform":[{"fold":["c1","c2","c3","c4","c5","c6","c7","c8"],"as":["s","v"]}],
   "mark":{"type":"line","stroke":"#000","strokeWidth":0.9,"clip":true},
   "encoding":{
    "x":{"field":"w","type":"quantitative","scale":{"domain":[4000,766],"nice":false,"zero":false},
         "axis":{"values":[4000,3700,3400,3100,2800,2500,2200,1900,1600,1300,1000],"format":"d","labelExpr":"datum.value % 600 == 400 ? datum.label : ''","labelPadding":10,"title":"Wavenumber (cm⁻¹)","titlePadding":4}},
    "y":{"field":"v","type":"quantitative","scale":{"domain":[0,3.5],"nice":false,"zero":false},
         "axis":{"values":[0,0.5,1,1.5,2,2.5,3],"labelExpr":"datum.value % 1 == 0 ? format(datum.value, 'd') : ''","labelPadding":3,"title":"Kubelka-Munk Function","titlePadding":22}},
    "detail":{"field":"s","type":"nominal"}}},
  {"data":{"name":"arrB"},"mark":{"type":"rule","strokeWidth":2.5},
   "encoding":{"x":{"field":"w","type":"quantitative"},"y":{"field":"y0","type":"quantitative"},"y2":{"field":"ye"},
    "color":{"field":"c","type":"nominal","scale":{"domain":["red","blue"],"range":["#8b1a1a","#1a1a8c"]},"legend":null}}},
  {"data":{"name":"arrB"},"mark":{"type":"point","filled":true,"opacity":1,"size":1296,"strokeWidth":0},
   "encoding":{"x":{"field":"w","type":"quantitative"},"y":{"field":"y1","type":"quantitative"},
    "color":{"field":"c","type":"nominal","legend":null},
    "shape":{"field":"d","type":"nominal","scale":{"domain":["down","up"],"range":["M-0.25,-1L0.25,-1L0,0Z","M-0.25,1L0.25,1L0,0Z"]},"legend":null}}},
  {"data":{"name":"txtB"},"mark":{"type":"text","fontSize":116,"font":"Liberation Sans","baseline":"alphabetic","align":"center","color":"#000","stroke":"#000","strokeWidth":1.5},
   "encoding":{"x":{"field":"w","type":"quantitative"},"y":{"field":"y","type":"quantitative"},"text":{"field":"t"}}},
  {"data":{"name":"lblB"},"mark":{"type":"text","fontSize":15,"font":"Liberation Sans","baseline":"middle","align":"center","color":"#000"},
   "encoding":{"x":{"field":"w","type":"quantitative"},"y":{"field":"y","type":"quantitative"},"text":{"field":"t"}}}
 ]},
 {"data":{"name":"binset"},"transform":[{"fold":["k1","k2","k3","k4","k5","k6","k7","k8","k9","k10","k11"],"as":["s","v"]}],
  "mark":{"type":"line","stroke":"#444","strokeWidth":0.9},
  "encoding":{
   "x":{"field":"w","type":"quantitative","scale":{"domain":[2200,2120],"range":[95,185],"nice":false,"zero":false},
        "axis":{"orient":"bottom","offset":-226.5,"values":[2200,2180,2160,2140,2120],"format":"d","labelExpr":"(2200 - datum.value) % 40 == 0 ? datum.label : ''","labelPadding":10,"title":null}},
   "y":{"field":"v","type":"quantitative","scale":{"domain":[0,3.5],"range":[134.5,1.5],"nice":false,"zero":false},
        "axis":{"orient":"left","offset":-95,"values":[0,0.5,1,1.5,2,2.5,3],"labelExpr":"datum.value % 1 == 0 ? format(datum.value, 'd') : ''","labelPadding":3,"title":null}},
   "detail":{"field":"s","type":"nominal"}}}
],
"resolve":{"scale":{"x":"independent","y":"independent"},"axis":{"x":"independent","y":"independent"}}
}
]
}
